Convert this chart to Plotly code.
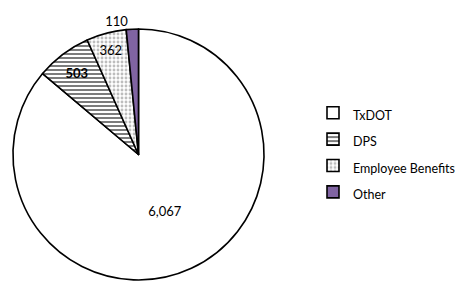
import plotly.graph_objects as go

categories = ["TxDOT", "DPS", "Employee Benefits", "Other"]
values = [6067, 503, 362, 110]
colors = ["#ffffff", "#c4c4c4", "#ececec", "#8064a2"]
patterns = ["", "-", ".", ""]
pattern_fg = ["#ffffff", "#5a5a5a", "#bdbdbd", "#8064a2"]
text_positions = ["inside", "inside", "inside", "outside"]
text_templates = ["%{value:,}", "<b>%{value:,}</b>", "%{value:,}", "%{value:,}"]

legend_labels = [f"<span style='font-size:12.5px'>{c}</span>" for c in categories]

fig = go.Figure(
    go.Pie(
        labels=legend_labels,
        values=values,
        sort=False,
        direction="clockwise",
        rotation=0,
        marker=dict(
            colors=colors,
            line=dict(color="#000000", width=1.6),
            pattern=dict(shape=patterns, fgcolor=pattern_fg, size=4, solidity=0.4),
        ),
        textposition=text_positions,
        texttemplate=text_templates,
        insidetextorientation="horizontal",
        textfont=dict(family="Lato, Arial", size=13, color="#000000"),
        domain=dict(x=[13 / 472, 264 / 472], y=[1 - 280 / 289, 1 - 29 / 289]),
        hoverinfo="label+value",
    )
)

fig.update_layout(
    width=472,
    height=289,
    margin=dict(l=0, r=0, t=0, b=0),
    paper_bgcolor="#ffffff",
    plot_bgcolor="#ffffff",
    uniformtext=dict(minsize=13, mode="show"),
    showlegend=True,
    legend=dict(
        x=313 / 472,
        y=0.5 - 8 / 289,
        xanchor="left",
        yanchor="middle",
        font=dict(family="Lato, Arial", size=18, color="#000000"),
        bgcolor="rgba(0,0,0,0)",
        traceorder="normal",
    ),
)

fig.write_html("out.html")
